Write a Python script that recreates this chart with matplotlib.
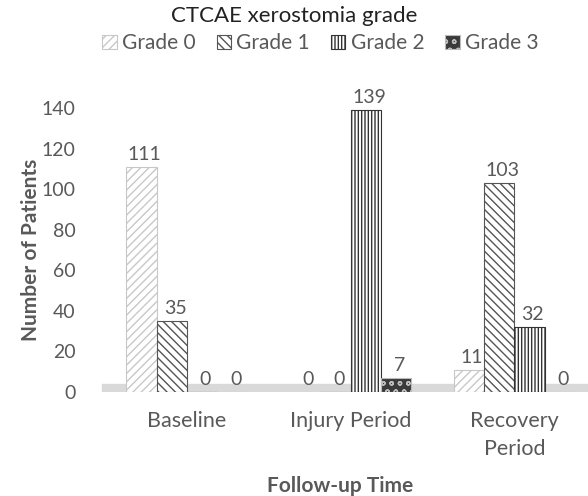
import matplotlib.pyplot as plt
import numpy as np

plt.rcParams['font.family'] = ['Lato', 'DejaVu Sans']
plt.rcParams['hatch.linewidth'] = 1.0

periods = ["Baseline", "Injury Period", "Recovery\nPeriod"]
grades = ["Grade 0", "Grade 1", "Grade 2", "Grade 3"]
grade0 = [111, 0, 11]
grade1 = [35, 0, 103]
grade2 = [0, 139, 32]
grade3 = [0, 7, 0]

series = [grade0, grade1, grade2, grade3]
faces = ["white", "white", "white", "#3a3a3a"]
edges = ["#c8c8c8", "#555555", "#333333", "#bbbbbb"]
hatches = ["////", "\\\\\\\\", "|||||", "oo"]

fig = plt.figure(figsize=(5.88, 4.96), dpi=100)
ax = fig.add_axes([92/588, 104/496, 496/588, 284/496])

x = np.arange(len(periods))
w = 0.185
gray = "#595959"

# floor band
ax.axhspan(-0.5, 4, xmin=0.02, xmax=1, color="#d9d9d9", zorder=0)

for i, vals in enumerate(series):
    pos = x + (i - 1.5) * w
    bars = ax.bar(pos, vals, w, color=faces[i], edgecolor=edges[i],
                  hatch=hatches[i], linewidth=0.8, label=grades[i], zorder=2)
    for b, v in zip(bars, vals):
        ax.text(b.get_x() + b.get_width() / 2 + 0.02, v + 2, str(v),
                ha="center", va="bottom", fontsize=14, color=gray,
                clip_on=False)

ax.set_xlim(-0.58, 2.45)
ax.set_ylim(0, 140)
ax.set_yticks(range(0, 141, 20))
ax.set_xticks(x)
ax.set_xticklabels(periods, fontsize=15.5, color=gray, linespacing=1.5)
ax.tick_params(axis="y", labelsize=14, labelcolor=gray, length=0, pad=12)
ax.tick_params(axis="x", length=0, pad=14)
for s in ax.spines.values():
    s.set_visible(False)

ax.set_ylabel("Number of Patients", fontsize=15, fontweight="bold",
              color=gray, labelpad=0)
ax.set_xlabel("Follow-up Time", fontsize=15, fontweight="bold",
              color=gray, labelpad=12)

fig.text(0.5, 0.968, "CTCAE xerostomia grade", ha="center", va="center",
         fontsize=16, color="#222222")
leg = fig.legend(loc="center", bbox_to_anchor=(0.545, 0.913), ncol=4,
                 frameon=False, fontsize=15, handlelength=0.7,
                 handleheight=0.7, handletextpad=0.25, columnspacing=1.0)
for t in leg.get_texts():
    t.set_color(gray)

fig.savefig("out.png", dpi=100)
